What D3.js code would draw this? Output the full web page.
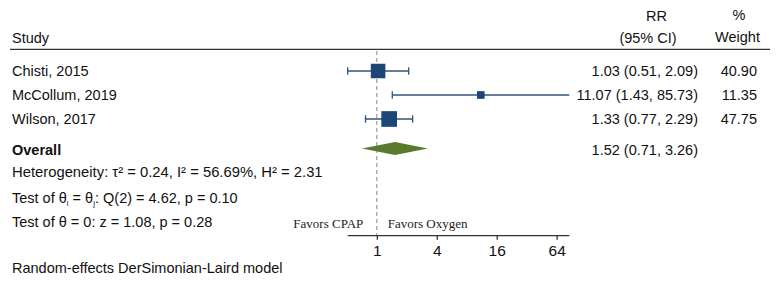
<!DOCTYPE html>
<html>
<head>
<meta charset="utf-8">
<script src="https://cdn.jsdelivr.net/npm/d3@7"></script>
<style>
  body { margin: 0; background: #fff; }
  text { font-family: "Liberation Sans", Arial, sans-serif; font-size: 14.5px; fill: #111; }
  .serif { font-family: "Liberation Serif", "Times New Roman", serif; font-size: 13px; fill: #222; }
</style>
</head>
<body>
<div id="chart"></div>
<script>
// Study data
const studies = ["Chisti, 2015", "McCollum, 2019", "Wilson, 2017"];
const rr = [1.03, 11.07, 1.33];
const lower = [0.51, 1.43, 0.77];
const upper = [2.09, 85.73, 2.29];
const weights = [40.90, 11.35, 47.75];

// Overall estimate
const overall = { rr: 1.52, lower: 0.71, upper: 3.26 };

const tickValues = [1, 4, 16, 64];
const statLines = [
    "Heterogeneity: τ² = 0.24, I² = 56.69%, H² = 2.31",
    "Q",
    "Test of θ = 0: z = 1.08, p = 0.28"
];

const width = 779, height = 287;

const svg = d3.select("#chart")
    .append("svg")
    .attr("width", width)
    .attr("height", height);

// log scale for risk ratio, base 2
const x = d3.scaleLog().base(2)
    .domain([d3.min(lower), d3.max(upper)])
    .range([347.7, 569.3]);

const y = d3.scaleLinear().domain([0, 1]).range([71, 95]);
const overallY = 148.5;
const axisY = 235.7;

// square side from weight
const side = d3.scaleSqrt().domain([0, 100]).range([0, 22.7]);

// header
svg.append("text").attr("x", 12).attr("y", 43).text("Study");
svg.append("text").attr("x", 656.5).attr("y", 21).attr("text-anchor", "middle").text("RR");
svg.append("text").attr("x", 648).attr("y", 43).attr("text-anchor", "middle").text("(95% CI)");
svg.append("text").attr("x", 739).attr("y", 20).attr("text-anchor", "middle").text("%");
svg.append("text").attr("x", 737.5).attr("y", 42).attr("text-anchor", "middle").text("Weight");

svg.append("line")
    .attr("x1", 10).attr("x2", 770)
    .attr("y1", 49.3).attr("y2", 49.3)
    .attr("stroke", "#333").attr("stroke-width", 1.3);

// reference line at 1
svg.append("line")
    .attr("x1", x(1)).attr("x2", x(1))
    .attr("y1", 51).attr("y2", axisY)
    .attr("stroke", "#888").attr("stroke-width", 1)
    .attr("stroke-dasharray", "4,3");

// studies
const rows = svg.selectAll(".study")
    .data(studies)
    .enter()
    .append("g")
    .attr("class", "study");

rows.append("text")
    .attr("x", 12)
    .attr("y", (d, i) => y(i) + 5)
    .text(d => d);

rows.append("line")
    .attr("x1", (d, i) => x(lower[i]))
    .attr("x2", (d, i) => x(upper[i]))
    .attr("y1", (d, i) => y(i))
    .attr("y2", (d, i) => y(i))
    .attr("stroke", "#2f5378")
    .attr("stroke-width", 1.3);

// caps (not at the axis end)
const caps = [];
studies.forEach((s, i) => {
    caps.push({ v: lower[i], i });
    if (upper[i] < x.domain()[1]) caps.push({ v: upper[i], i });
});
svg.selectAll(".cap")
    .data(caps)
    .enter()
    .append("line")
    .attr("class", "cap")
    .attr("x1", d => x(d.v)).attr("x2", d => x(d.v))
    .attr("y1", d => y(d.i) - 3.7).attr("y2", d => y(d.i) + 3.7)
    .attr("stroke", "#2f5378")
    .attr("stroke-width", 1.3);

rows.append("rect")
    .attr("x", (d, i) => x(rr[i]) - side(weights[i]) / 2)
    .attr("y", (d, i) => y(i) - side(weights[i]) / 2)
    .attr("width", (d, i) => side(weights[i]))
    .attr("height", (d, i) => side(weights[i]))
    .attr("fill", "#1b4675");

rows.append("text")
    .attr("x", 698)
    .attr("y", (d, i) => y(i) + 5)
    .attr("text-anchor", "end")
    .text((d, i) => `${rr[i].toFixed(2)} (${lower[i].toFixed(2)}, ${upper[i].toFixed(2)})`);

rows.append("text")
    .attr("x", 757)
    .attr("y", (d, i) => y(i) + 5)
    .attr("text-anchor", "end")
    .text((d, i) => weights[i].toFixed(2));

// overall
svg.append("text")
    .attr("x", 12).attr("y", overallY + 6)
    .style("font-weight", "bold")
    .text("Overall");

const dh = 6.6;
svg.append("path")
    .attr("d", `M${x(overall.lower)},${overallY} L${x(overall.rr)},${overallY - dh} L${x(overall.upper)},${overallY} L${x(overall.rr)},${overallY + dh} Z`)
    .attr("fill", "#587a2a");

svg.append("text")
    .attr("x", 698).attr("y", overallY + 6)
    .attr("text-anchor", "end")
    .text(`${overall.rr.toFixed(2)} (${overall.lower.toFixed(2)}, ${overall.upper.toFixed(2)})`);

// stats lines
svg.append("text").attr("x", 12).attr("y", 177).style("font-size", "14.8px").text(statLines[0]);

const t2 = svg.append("text").attr("x", 12).attr("y", 203);
t2.append("tspan").text("Test of θ");
t2.append("tspan").attr("dy", 3).style("font-size", "8px").text("i");
t2.append("tspan").attr("dy", -3).text(" = θ");
t2.append("tspan").attr("dy", 3).style("font-size", "8px").text("j");
t2.append("tspan").attr("dy", -3).text(": Q(2) = 4.62, p = 0.10");

svg.append("text").attr("x", 12).attr("y", 227).text(statLines[2]);

// favors labels
svg.append("text").attr("class", "serif")
    .attr("x", 363.3).attr("y", 227.7)
    .attr("text-anchor", "end")
    .text("Favors CPAP");
svg.append("text").attr("class", "serif")
    .attr("x", 387.7).attr("y", 227.7)
    .text("Favors Oxygen");

// x axis
const axis = svg.append("g")
    .attr("transform", `translate(0,${axisY})`)
    .call(d3.axisBottom(x).tickValues(tickValues).tickFormat(d3.format("d")).tickSize(4).tickPadding(5));
axis.select(".domain").attr("stroke", "#333").attr("stroke-width", 1.3).attr("d", `M${x.range()[0]},0H${x.range()[1]}`);
axis.selectAll(".tick line").attr("stroke", "#333").attr("stroke-width", 1.3);
axis.selectAll(".tick text")
    .style("font-family", "'Liberation Sans', Arial, sans-serif")
    .style("font-size", "15.5px")
    .attr("fill", "#111");

// footnote
svg.append("text").attr("x", 12).attr("y", 273).text("Random-effects DerSimonian-Laird model");
</script>
</body>
</html>
